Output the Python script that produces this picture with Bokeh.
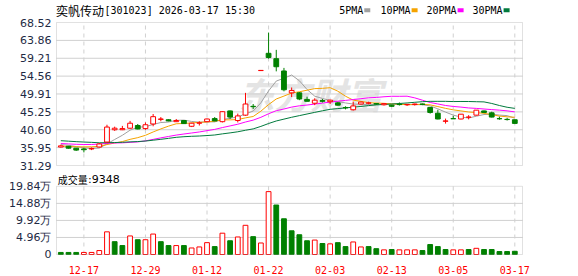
import numpy as np
from bokeh.plotting import figure
from bokeh.layouts import column
from bokeh.models import ColumnDataSource, FixedTicker, Label, Range1d, BoxAnnotation
from bokeh.embed import file_html
from bokeh.resources import INLINE

# ---------------- data ----------------
dates = ["12-12", "12-15", "12-16", "12-17", "12-18", "12-19", "12-22", "12-23", "12-24", "12-25",
         "12-26", "12-29", "12-30", "12-31", "01-05", "01-06", "01-07", "01-08", "01-09", "01-12",
         "01-13", "01-14", "01-15", "01-16", "01-19", "01-20", "01-21", "01-22", "01-23", "01-26",
         "01-27", "01-28", "01-29", "01-30", "02-02", "02-03", "02-04", "02-05", "02-06", "02-09",
         "02-10", "02-11", "02-12", "02-13", "02-24", "02-25", "02-26", "02-27", "03-02", "03-03",
         "03-04", "03-05", "03-06", "03-09", "03-10", "03-11", "03-12", "03-13", "03-16", "03-17"]

opens = [36.1, 36.3, 35.8, 35.6, 35.6, 36.1, 37.4, 40.6, 40.6, 41.0,
         41.7, 40.9, 42.1, 43.3, 43.2, 42.7, 43.0, 41.5, 42.3, 42.7,
         43.5, 42.7, 45.5, 43.0, 44.4, 46.7, 56.0, 60.5, 59.1, 55.9,
         50.2, 50.2, 48.5, 47.5, 48.2, 47.9, 47.6, 46.4, 45.8, 47.3,
         47.5, 47.4, 47.1, 47.0, 47.25, 47.1, 47.15, 47.3, 46.4, 44.9,
         42.8, 43.5, 43.4, 43.85, 44.4, 45.5, 45.0, 43.5, 43.3, 43.2]
highs = [36.7, 36.4, 35.8, 35.9, 36.0, 37.1, 41.9, 41.4, 41.6, 42.9,
         42.1, 42.5, 44.7, 43.9, 43.3, 43.4, 43.1, 42.4, 42.8, 43.5,
         43.9, 45.4, 45.6, 44.8, 50.2, 47.3, 56.05, 65.9, 61.4, 56.7,
         51.6, 50.4, 49.2, 48.8, 48.6, 48.4, 47.8, 46.7, 47.9, 47.9,
         47.9, 47.5, 47.5, 47.1, 47.7, 47.3, 47.4, 47.4, 46.5, 45.8,
         43.5, 44.2, 44.7, 44.4, 45.7, 45.6, 45.3, 44.0, 43.7, 43.25]
lows = [36.0, 35.7, 35.1, 34.7, 35.3, 36.0, 37.3, 40.3, 40.5, 40.8,
        40.7, 40.6, 41.5, 42.8, 42.8, 42.6, 42.1, 41.3, 41.7, 42.6,
        42.8, 42.5, 43.4, 42.5, 44.2, 46.0, 56.0, 59.1, 55.8, 50.6,
        49.1, 48.3, 48.0, 47.0, 47.7, 47.3, 46.9, 45.9, 45.6, 47.2,
        47.2, 47.1, 46.9, 46.6, 46.9, 46.8, 46.9, 47.0, 44.8, 43.3,
        42.2, 43.4, 43.3, 43.3, 44.3, 45.0, 43.8, 43.2, 43.0, 42.2]
closes = [36.4, 35.8, 35.3, 35.4, 35.7, 36.9, 41.3, 41.0, 40.9, 42.3,
          40.8, 41.9, 44.0, 43.4, 42.9, 43.0, 42.2, 42.3, 42.4, 43.4,
          42.9, 45.3, 43.9, 44.2, 47.3, 46.6, 56.05, 59.4, 57.0, 51.0,
          50.8, 48.6, 48.0, 48.3, 48.0, 48.3, 47.0, 46.3, 46.8, 47.8,
          47.6, 47.3, 47.4, 46.7, 47.15, 47.2, 47.3, 47.2, 45.1, 43.4,
          42.9, 43.45, 44.65, 43.9, 45.7, 45.1, 43.9, 43.45, 43.25, 42.25]
# volume in 万 (10k)
volumes = [0.6, 0.6, 0.6, 0.6, 0.6, 1.15, 6.6, 3.74, 2.6, 5.4,
           4.3, 4.3, 5.95, 3.74, 2.6, 2.6, 2.6, 1.9, 2.2, 3.45,
           2.3, 6.2, 4.0, 5.1, 8.5, 5.2, 3.35, 18.3, 14.4, 10.4,
           6.9, 5.75, 4.0, 4.2, 3.2, 3.1, 3.45, 2.3, 3.65, 2.2,
           2.3, 1.7, 1.35, 1.45, 1.35, 1.35, 1.35, 1.15, 2.9, 2.3,
           1.45, 1.35, 1.35, 1.45, 1.8, 1.45, 1.45, 0.86, 0.86, 0.9348]
# closes of the sessions before the window (feed the moving averages)
prior_closes = [39.5, 39.0, 38.6, 38.0, 40.2, 40.5, 39.8, 39.2, 38.9, 38.5,
                37.8, 37.3, 36.6, 35.4, 34.9, 37.5, 39.0, 40.2, 39.8, 38.5,
                36.5, 36.2, 35.6, 35.5, 35.8, 36.6, 37.0, 37.1, 36.5]

price_ticks = [31.29, 35.95, 40.60, 45.25, 49.91, 54.56, 59.21, 63.86, 68.52]
price_tick_labels = ["31.29", "35.95", "40.60", "45.25", "49.91", "54.56", "59.21", "63.86", "68.52"]
vol_ticks = [0, 4.96, 9.92, 14.88, 19.84]
vol_tick_labels = ["0", "4.96万", "9.92万", "14.88万", "19.84万"]
label_dates = ["12-17", "12-29", "01-12", "01-22", "02-03", "02-13", "03-05", "03-17"]

ma_periods = [5, 10, 20, 30]
ma_names = ["5PMA", "10PMA", "20PMA", "30PMA"]
ma_colors = ["#a0a0a0", "#f5a300", "#ff00ff", "#007a3d"]

title_name = "奕帆传动"
title_rest = "[301023] 2026-03-17 15:30"
vol_name = "成交量"
vol_rest = ":9348"

# ---------------- derived ----------------
UP = "#ff0000"
DOWN = "#008000"
n = len(dates)
x = list(range(n))
o = np.array(opens); c = np.array(closes); h = np.array(highs); l = np.array(lows)
up = c >= o
cand_color = [UP if u else DOWN for u in up]
cand_fill = ["#ffffff" if u else DOWN for u in up]
body_bot = np.minimum(o, c)
body_top = np.maximum(np.maximum(o, c), body_bot + 0.05)

prev = np.concatenate([[prior_closes[-1]], c[:-1]])
vup = c >= prev
vol_color = [UP if u else DOWN for u in vup]
vol_fill = ["#ffffff" if u else DOWN for u in vup]

allc = np.array(prior_closes + closes)
off = len(prior_closes)
mas = []
for per in ma_periods:
    mas.append([allc[off + i - per + 1: off + i + 1].mean() for i in range(n)])

label_idx = [dates.index(d) for d in label_dates]

src = ColumnDataSource(dict(x=x, h=h, l=l, top=body_top, bot=body_bot,
                            color=cand_color, fill=cand_fill))
vsrc = ColumnDataSource(dict(x=x, v=volumes, color=vol_color, fill=vol_fill))

# ---------------- geometry / style ----------------
W = 578
X0, X1 = -0.56, 60.0            # index extent of the boxed panels
PANEL_L, PANEL_R = 56, 522      # canvas columns of the panel borders
FB = PANEL_L - 1                # frame border (frame 1px wider than the box)
px_x = (X1 - X0) / (PANEL_R - PANEL_L)
XR = Range1d(X0 - px_x, X1 + px_x)

GRID = "#d0d0d0"
FRAME = "#9a9a9a"
AXFONT = "DejaVu Sans"
AXCOLOR = "#1e2a44"

# price canvas: rows 0..171, box rows 22..165, frame rows 0..166
P_H, P_TOP, P_BOT, P_FBOT = 171, 22, 165, 166
ppu = (P_BOT - P_TOP) / (price_ticks[-1] - price_ticks[0])
PYR = Range1d(price_ticks[0] - (P_FBOT - P_BOT) / ppu, price_ticks[-1] + P_TOP / ppu)

# volume canvas: rows 171..276 (local 0..105), box local rows 15..84, frame 0..85
V_H, V_TOP, V_BOT, V_FBOT = 105, 15, 84, 85
vppu = (V_BOT - V_TOP) / (vol_ticks[-1] - vol_ticks[0])
VYR = Range1d(vol_ticks[0] - (V_FBOT - V_BOT) / vppu, vol_ticks[-1] + V_TOP / vppu)


def style_yaxis(p, ticks, labels):
    p.yaxis.ticker = FixedTicker(ticks=ticks)
    p.yaxis.major_label_overrides = {t: s for t, s in zip(ticks, labels)}
    p.yaxis.axis_line_color = None
    p.yaxis.major_tick_line_color = None
    p.yaxis.minor_tick_line_color = None
    p.yaxis.major_tick_out = 0
    p.yaxis.major_tick_in = 0
    p.yaxis.minor_tick_out = 0
    p.yaxis.major_label_standoff = 4
    p.yaxis.major_label_text_font = AXFONT
    p.yaxis.major_label_text_font_size = "11px"
    p.yaxis.major_label_text_color = AXCOLOR


def panel_grid(p, lo, hi, hticks):
    # horizontal grid at inner ticks, vertical dashed grid at the labelled dates
    inner = hticks[1:-1]
    p.segment(x0=[X0] * len(inner), y0=inner, x1=[X1] * len(inner), y1=inner,
              line_color=GRID, line_width=1)
    p.segment(x0=label_idx, y0=[lo] * len(label_idx), x1=label_idx, y1=[hi] * len(label_idx),
              line_color=GRID, line_width=1, line_dash="4 4")


def panel_box(p, lo, hi):
    p.add_layout(BoxAnnotation(left=X0, right=X1, bottom=lo, top=hi, fill_color=None,
                               line_color=FRAME, line_width=1))


# ---------------- price panel ----------------
p1 = figure(width=W, height=P_H, x_range=XR, y_range=PYR,
            output_backend="svg", toolbar_location=None, x_axis_location=None,
            min_border_left=FB, min_border_right=W - PANEL_R - 1,
            min_border_top=0, min_border_bottom=P_H - P_FBOT)
p1.background_fill_color = "white"
p1.border_fill_color = "white"
p1.outline_line_color = None
p1.grid.visible = False
style_yaxis(p1, price_ticks, price_tick_labels)
panel_grid(p1, price_ticks[0], price_ticks[-1], price_ticks)

wm = Label(x=183, y=74, x_units="screen", y_units="screen", text="东方财富",
           text_font="Noto Sans CJK SC", text_font_size="36px", text_font_style="bold italic",
           text_color="#e4e4e4", text_baseline="middle", level="underlay")
p1.add_layout(wm)

for m, col in zip(mas, ma_colors):
    p1.line(x, m, line_color=col, line_width=1)

p1.segment(x0="x", y0="l", x1="x", y1="h", line_color="color", line_width=1, source=src)
p1.vbar(x="x", width=0.62, top="top", bottom="bot", fill_color="fill",
        line_color="color", line_width=1, source=src)
panel_box(p1, price_ticks[0], price_ticks[-1])

# header texts (inside the frame's top strip; screen y counts up from the frame bottom)
HEAD_Y = P_FBOT - 10
p1.add_layout(Label(x=55.5 - FB, y=HEAD_Y, x_units="screen", y_units="screen", text=title_name,
                    text_font="Noto Sans CJK SC", text_font_size="12px", text_color="#000000",
                    text_baseline="middle"))
p1.add_layout(Label(x=104 - FB, y=HEAD_Y, x_units="screen", y_units="screen", text=title_rest,
                    text_font="DejaVu Sans Mono", text_font_size="10px", text_color="#000000",
                    text_baseline="middle"))
leg_x = [338.7, 380, 426, 472]
for name, col, lx in zip(ma_names, ma_colors, leg_x):
    p1.add_layout(Label(x=lx - FB, y=HEAD_Y, x_units="screen", y_units="screen", text=name,
                        text_font="DejaVu Sans Mono", text_font_size="10px",
                        text_color="#000000", text_baseline="middle"))
    sx = lx + len(name) * 6.02 + 1 - FB
    p1.add_layout(BoxAnnotation(left=sx, right=sx + 6, top=HEAD_Y + 2.2, bottom=HEAD_Y - 1.8,
                                left_units="screen", right_units="screen",
                                top_units="screen", bottom_units="screen",
                                fill_color=col, fill_alpha=1.0, line_color=None))

# ---------------- volume panel ----------------
p2 = figure(width=W, height=V_H, x_range=XR, y_range=VYR,
            output_backend="svg", toolbar_location=None,
            min_border_left=FB, min_border_right=W - PANEL_R - 1,
            min_border_top=0, min_border_bottom=V_H - V_FBOT)
p2.background_fill_color = "white"
p2.border_fill_color = "white"
p2.outline_line_color = None
p2.grid.visible = False
style_yaxis(p2, vol_ticks, vol_tick_labels)
p2.xaxis.ticker = FixedTicker(ticks=label_idx)
p2.xaxis.major_label_overrides = {i: d for i, d in zip(label_idx, label_dates)}
p2.xaxis.axis_line_color = None
p2.xaxis.major_tick_line_color = None
p2.xaxis.minor_tick_line_color = None
p2.xaxis.major_tick_out = 0
p2.xaxis.major_tick_in = 0
p2.xaxis.minor_tick_out = 0
p2.xaxis.major_label_standoff = 10
p2.xaxis.major_label_text_font = "DejaVu Sans Mono"
p2.xaxis.major_label_text_font_size = "10px"
p2.xaxis.major_label_text_color = "#ff0000"
panel_grid(p2, vol_ticks[0], vol_ticks[-1], vol_ticks)

p2.vbar(x="x", width=0.62, top="v", bottom=0, fill_color="fill", line_color="color",
        line_width=1, source=vsrc)
panel_box(p2, vol_ticks[0], vol_ticks[-1])

CAP_Y = V_FBOT - 8.5
p2.add_layout(Label(x=57.3 - FB, y=CAP_Y, x_units="screen", y_units="screen", text=vol_name,
                    text_font="Noto Sans CJK SC", text_font_size="10px", text_color="#000000",
                    text_baseline="middle"))
p2.add_layout(Label(x=87.5 - FB, y=CAP_Y, x_units="screen", y_units="screen", text=vol_rest,
                    text_font="DejaVu Sans", text_font_size="11px", text_color="#000000",
                    text_baseline="middle"))

layout = column(p1, p2, spacing=0)
open("out.html", "w").write(file_html(layout, INLINE))
